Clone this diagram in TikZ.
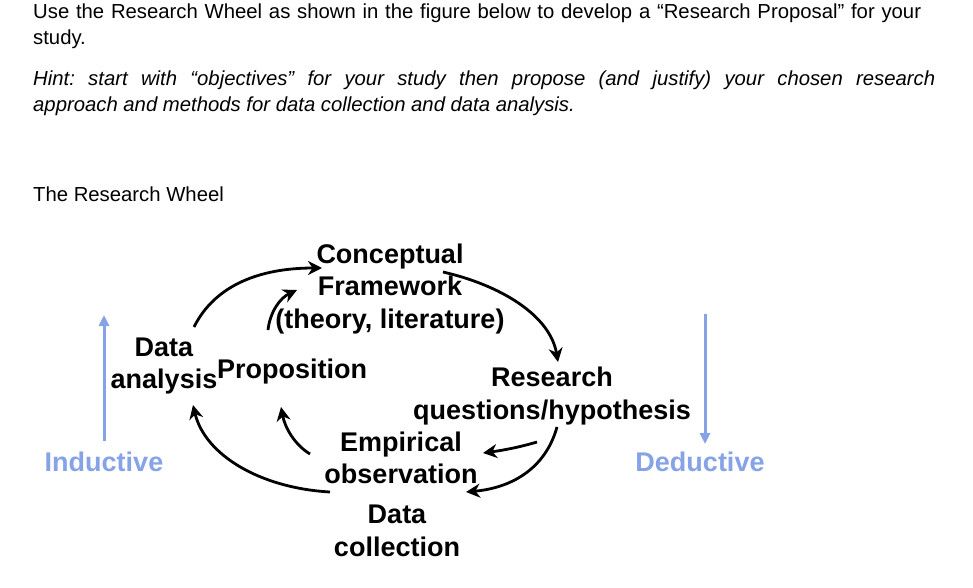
\documentclass[tikz,border=0pt]{standalone}
\usepackage{fontspec}
\setmainfont{Liberation Sans}
\usetikzlibrary{arrows.meta}
\frenchspacing
\begin{document}
\begin{tikzpicture}[x=1pt,y=-1pt,
  lbl/.style={font=\fontsize{27}{32.5}\selectfont\bfseries,align=center,inner sep=0pt},
  side/.style={font=\fontsize{27}{28}\selectfont\bfseries,text=bluecol,inner sep=0pt},
  cyc/.style={line width=2.8pt,-{Stealth[length=14pt,width=14pt]}},
  bar/.style={line width=3pt,draw=bluecol,-{Triangle[length=11pt,width=10pt]}}]
\definecolor{bluecol}{HTML}{85A3E6}
\useasboundingbox[fill=white] (0,0) rectangle (973,588);
\node[anchor=north west,text width=910pt,align=left,inner sep=0pt,font=\fontsize{20.3}{26}\selectfont] (p1) at (33,4)
 {Use the Research Wheel as shown in the figure below to develop a “Research Proposal” for your\\study.};
\node[anchor=north west,text width=902pt,align=justify,inner sep=0pt,font=\fontsize{20.3}{26}\selectfont\itshape] (p2) at (33,71)
 {Hint: start with “objectives” for your study then propose (and justify) your chosen research\linebreak approach and methods for data collection and data analysis.};
\node[anchor=west,inner sep=0pt,font=\fontsize{20.3}{20}\selectfont] (title) at (33,194) {The Research Wheel};
\node[lbl] (cf) at (390,289) {Conceptual\\Framework\\(theory, literature)};
\node[lbl] (da) at (164,366) {Data\\analysis};
\node[lbl] (pr) at (292,372) {Proposition};
\node[lbl] (rq) at (552,396) {Research\\questions/hypothesis};
\node[lbl] (eo) at (401,458) {Empirical\\observation};
\node[lbl] (dc) at (397,531) {Data\\collection};
\node[side] (ind) at (104,462) {Inductive};
\node[side] (ded) at (700,462) {Deductive};
\coordinate (ib) at (104,441); \coordinate (it) at (104,315);
\coordinate (db) at (705,444); \coordinate (dt) at (705,314);
\draw[bar] (ib) -- (it);
\draw[bar] (dt) -- (db);
\draw[cyc] (194,327) .. controls (215,285) and (260,268) .. (322,268);
\draw[cyc] (443,272) .. controls (500,285) and (550,315) .. (558,362);
\draw[cyc] (557,427) .. controls (545,470) and (510,488) .. (466,492);
\draw[cyc] (537,442) .. controls (520,447) and (505,450) .. (483,453);
\draw[cyc] (330,492) .. controls (260,488) and (205,455) .. (193,405);
\draw[cyc] (310,454) .. controls (295,445) and (285,428) .. (281,407);
\draw[cyc] (268,330) .. controls (270,312) and (280,298) .. (297,290);
\end{tikzpicture}
\end{document}
